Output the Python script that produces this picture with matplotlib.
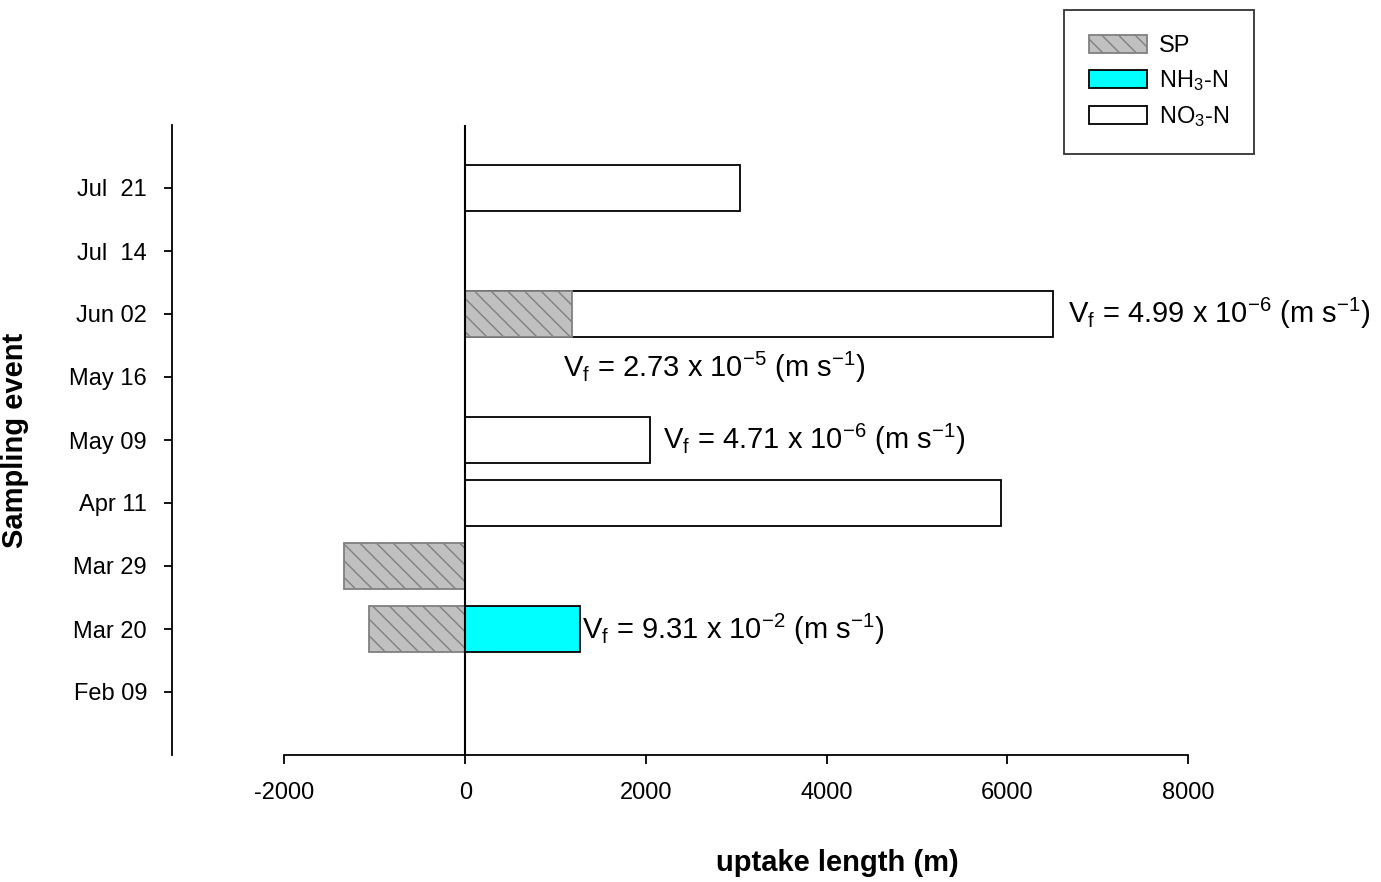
import matplotlib
matplotlib.use("Agg")
import matplotlib.pyplot as plt
import numpy as np
from matplotlib.patches import Patch

plt.rcParams['font.family'] = ['Liberation Sans', 'DejaVu Sans']
plt.rcParams['mathtext.fontset'] = 'custom'
plt.rcParams['mathtext.rm'] = 'Liberation Sans'
plt.rcParams['mathtext.it'] = 'Liberation Sans'
plt.rcParams['hatch.linewidth'] = 1.0

# data
events = ["Feb 09", "Mar 20", "Mar 29", "Apr 11", "May 09", "May 16", "Jun 02", "Jul  14", "Jul  21"]
sp = [0, -1070, -1340, 0, 0, 0, 1185, 0, 0]
nh3 = [0, 1270, 0, 0, 0, 0, 0, 0, 0]
no3 = [0, 0, 0, 5930, 2040, 0, 6510, 0, 3040]

vf_labels = [r"V$_\mathrm{f}$ = 4.99 x 10$^\mathrm{-6}$ (m s$^\mathrm{-1}$)",
             r"V$_\mathrm{f}$ = 2.73 x 10$^\mathrm{-5}$ (m s$^\mathrm{-1}$)",
             r"V$_\mathrm{f}$ = 4.71 x 10$^\mathrm{-6}$ (m s$^\mathrm{-1}$)",
             r"V$_\mathrm{f}$ = 9.31 x 10$^\mathrm{-2}$ (m s$^\mathrm{-1}$)"]
vf_x = [6670, 1080, 2190, 1290]
vf_y = [5.86, 5.0, 3.86, 0.84]

y = np.arange(len(events))
h = 0.72

fig = plt.figure(figsize=(13.81, 8.82), dpi=100)
ax = fig.add_axes([172 / 1381, 1 - 755 / 882, (1188 - 172) / 1381, (755 - 125) / 882])

ax.barh(y, no3, height=h, color='white', edgecolor='black', linewidth=1.3, zorder=2)
ax.barh(y, nh3, height=h, color='#00ffff', edgecolor='black', linewidth=1.3, zorder=2)
ax.barh(y, sp, height=h, color='#c0c0c0', edgecolor='#808080', linewidth=1.3,
        hatch='\\\\', zorder=3)

ax.axvline(0, color='black', linewidth=1.5, zorder=4)

ax.set_xlim(-3245, 8000)
ax.set_ylim(-1, 9)
ax.spines['top'].set_visible(False)
ax.spines['right'].set_visible(False)
ax.spines['bottom'].set_bounds(-2000, 8000)
for s in ['left', 'bottom']:
    ax.spines[s].set_linewidth(1.3)

ax.set_xticks([-2000, 0, 2000, 4000, 6000, 8000])
ax.set_xticklabels(["-2000", "0", "2000", "4000", "6000", "8000"])
ax.set_yticks(y)
ax.set_yticklabels(events)
ax.tick_params(axis='y', length=6, width=1.3, pad=12, labelsize=17)
ax.tick_params(axis='x', length=6.5, width=1.3, pad=13, labelsize=17)

ax.set_xlabel("uptake length (m)", fontsize=21, fontweight='bold')
ax.xaxis.set_label_coords((837 - 172) / (1188 - 172), -(849 - 755) / 630)
ax.set_ylabel("Sampling event", fontsize=21, fontweight='bold')
ax.yaxis.set_label_coords(-(172 - 29) / (1188 - 172), 0.5)

for t, xx, yy in zip(vf_labels, vf_x, vf_y):
    ax.text(xx, yy, t, fontsize=21, ha='left', va='baseline', clip_on=False)

handles = [Patch(facecolor='#c0c0c0', edgecolor='#808080', hatch='\\\\', linewidth=1.3),
           Patch(facecolor='#00ffff', edgecolor='black', linewidth=1.3),
           Patch(facecolor='white', edgecolor='black', linewidth=1.3)]
leg = fig.legend(handles, ["SP", r"NH$_\mathrm{3}$-N", r"NO$_\mathrm{3}$-N"],
                 loc='upper right', bbox_to_anchor=(1254 / 1381, 1 - 10 / 882),
                 fontsize=17, frameon=True, fancybox=False, handlelength=2.45,
                 handleheight=0.78, labelspacing=0.48, borderpad=1.05,
                 handletextpad=0.5, borderaxespad=0)
leg.get_frame().set_edgecolor('black')
leg.get_frame().set_linewidth(1.3)

fig.savefig("out.png", dpi=100)
